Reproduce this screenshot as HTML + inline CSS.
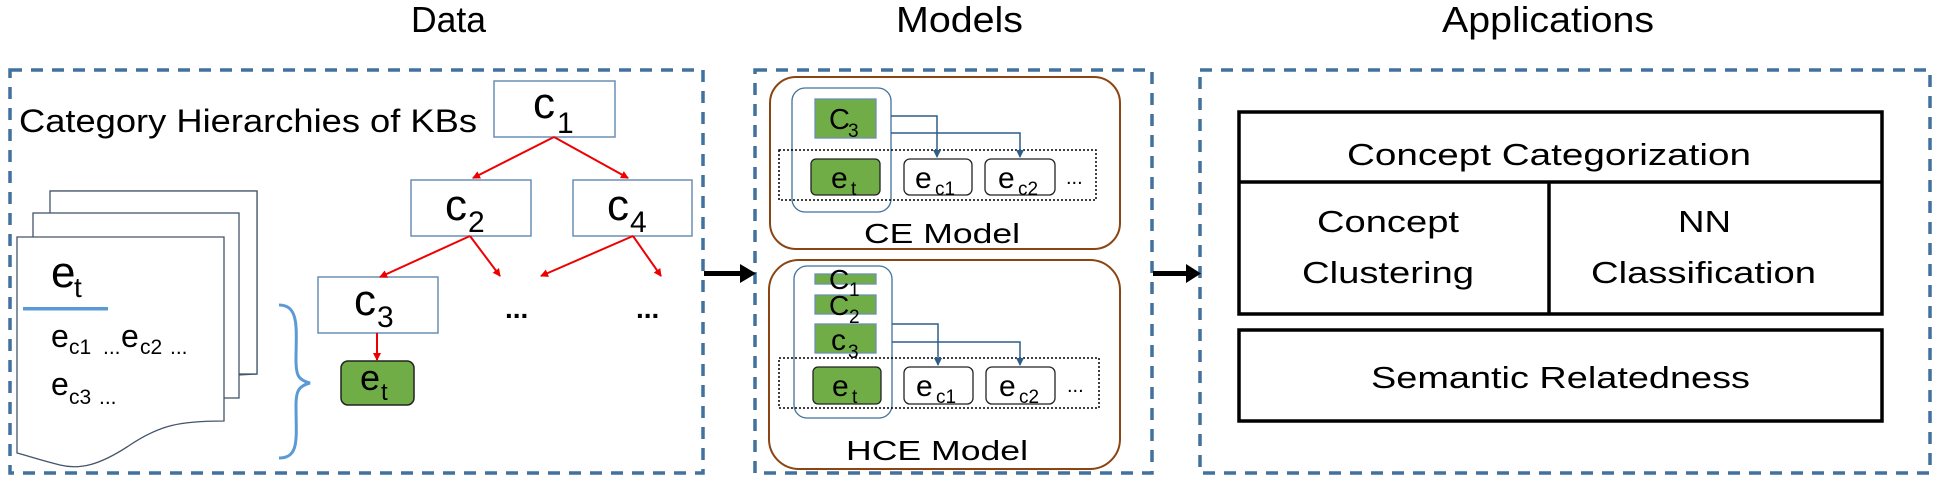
<!DOCTYPE html>
<html><head><meta charset="utf-8"><style>html,body{margin:0;padding:0;background:#fff}svg{display:block}text{font-family:"Liberation Sans",sans-serif;fill:#000}</style></head><body>
<svg width="1942" height="482" viewBox="0 0 1942 482" xmlns="http://www.w3.org/2000/svg">
<defs>
<marker id="ra" markerWidth="8" markerHeight="8" refX="7" refY="4" orient="auto" markerUnits="userSpaceOnUse"><path d="M0,0 L8,4 L0,8 z" fill="#e00"/></marker>
<marker id="ba" markerWidth="8" markerHeight="8" refX="7" refY="4" orient="auto" markerUnits="userSpaceOnUse"><path d="M0,0 L8,4 L0,8 z" fill="#2e5d8a"/></marker>
</defs>
<!-- titles -->
<text x="411" y="32" font-size="36" textLength="75" lengthAdjust="spacingAndGlyphs">Data</text>
<text x="896" y="32" font-size="36" textLength="127" lengthAdjust="spacingAndGlyphs">Models</text>
<text x="1442" y="32" font-size="36" textLength="212" lengthAdjust="spacingAndGlyphs">Applications</text>
<!-- dashed boxes -->
<g fill="none" stroke="#41719c" stroke-width="3.5" stroke-dasharray="12,9">
<rect x="10" y="70" width="693" height="403"/>
<rect x="755" y="70" width="397" height="403"/>
<rect x="1200" y="70" width="730" height="403"/>
</g>
<!-- big arrows -->
<g fill="#000"><rect x="704" y="271" width="38" height="5"/><path d="M740,264 L756,273.5 L740,283 z"/>
<rect x="1153" y="271" width="35" height="5"/><path d="M1186,264 L1201,273.5 L1186,283 z"/></g>
<!-- Data section -->
<text x="19" y="132" font-size="32" textLength="458" lengthAdjust="spacingAndGlyphs">Category Hierarchies of KBs</text>
<g fill="#fff" stroke="#6b8fb5" stroke-width="1.5">
<rect x="494" y="81" width="121" height="56"/>
<rect x="411" y="180" width="120" height="56"/>
<rect x="573" y="180" width="119" height="56"/>
<rect x="318" y="277" width="120" height="56"/>
</g>
<rect x="341" y="361" width="73" height="44" rx="7" fill="#70ad47" stroke="#222" stroke-width="1.5"/>
<g font-size="44"><text x="533" y="118">c</text><text x="445" y="220">c</text><text x="607" y="220">c</text><text x="354" y="315">c</text></g>
<g font-size="30"><text x="557" y="133">1</text><text x="468" y="232">2</text><text x="630" y="232">4</text><text x="377" y="327">3</text></g>
<text x="360" y="390" font-size="36">e</text><text x="381" y="400" font-size="24">t</text>
<g stroke="#e00" stroke-width="2" fill="none" marker-end="url(#ra)">
<line x1="554" y1="137" x2="473" y2="178"/><line x1="554" y1="137" x2="628" y2="178"/>
<line x1="470" y1="236" x2="380" y2="277"/><line x1="470" y1="236" x2="500" y2="276"/>
<line x1="633" y1="236" x2="541" y2="276"/><line x1="633" y1="236" x2="661" y2="276"/>
<line x1="377" y1="333" x2="377" y2="360"/>
</g>
<text x="505" y="318" font-size="28" font-weight="bold">...</text>
<text x="636" y="318" font-size="28" font-weight="bold">...</text>
<!-- documents -->
<g fill="#fff" stroke="#44546a" stroke-width="1.3">
<path d="M50,191 H257 V374 L239,375 V191"/>
<rect x="50" y="191" width="207" height="183"/>
<rect x="33" y="213" width="206" height="185"/>
<path d="M17,237 H224 V421 C180,421 160,425 130,445 C100,465 80,470 60,465 C40,460 25,455 17,453 Z"/>
</g>
<text x="51" y="287" font-size="44">e</text><text x="74" y="297" font-size="28">t</text>
<rect x="23" y="307" width="85" height="3.5" fill="#5b9bd5"/>
<g font-size="32"><text x="51" y="347">e</text><text x="121" y="347">e</text><text x="51" y="395">e</text></g>
<g font-size="21"><text x="69" y="354">c1</text><text x="103" y="354">...</text><text x="140" y="354">c2</text><text x="170" y="354">...</text><text x="69" y="404">c3</text><text x="99" y="404">...</text></g>
<path d="M279,305 C300,305 296,330 296,360 C296,375 298,380 310,383 C298,386 296,392 296,405 C296,438 300,458 279,458" fill="none" stroke="#5b9bd5" stroke-width="3"/>
<!-- Models: CE -->
<rect x="770" y="77" width="350" height="172" rx="26" fill="none" stroke="#8b4513" stroke-width="2"/>
<rect x="792" y="88" width="99" height="124" rx="13" fill="none" stroke="#41719c" stroke-width="1.3"/>
<rect x="815" y="99" width="61" height="39" fill="#70ad47" stroke="#6b8fb5" stroke-width="1.3"/>
<rect x="779" y="150" width="317" height="50" fill="none" stroke="#000" stroke-width="1.5" stroke-dasharray="2,2"/>
<rect x="811" y="159" width="69" height="36" rx="5" fill="#70ad47" stroke="#222" stroke-width="1.3"/>
<rect x="904" y="159" width="68" height="36" rx="6" fill="#fff" stroke="#222" stroke-width="1.3"/>
<rect x="985" y="159" width="70" height="36" rx="6" fill="#fff" stroke="#222" stroke-width="1.3"/>
<g stroke="#2e5d8a" stroke-width="1.5" fill="none" marker-end="url(#ba)">
<polyline points="891,116 937,116 937,157"/><polyline points="891,133 1020,133 1020,157"/>
</g>
<text x="829" y="129" font-size="29">C</text><text x="848" y="137" font-size="19">3</text>
<g font-size="30"><text x="831" y="188">e</text><text x="915" y="188">e</text><text x="998" y="188">e</text></g>
<g font-size="19"><text x="851" y="195">t</text><text x="935" y="195">c1</text><text x="1018" y="195">c2</text></g>
<text x="1066" y="184" font-size="20">...</text>
<text x="864" y="243" font-size="28" textLength="156" lengthAdjust="spacingAndGlyphs">CE Model</text>
<!-- Models: HCE -->
<rect x="769" y="260" width="351" height="209" rx="30" fill="none" stroke="#8b4513" stroke-width="2"/>
<rect x="794" y="266" width="98" height="152" rx="13" fill="none" stroke="#41719c" stroke-width="1.3"/>
<g fill="#70ad47" stroke="#6b8fb5" stroke-width="1.3">
<rect x="815" y="274" width="61" height="10"/><rect x="815" y="295" width="61" height="19"/><rect x="815" y="324" width="61" height="29"/>
</g>
<rect x="779" y="358" width="320" height="50" fill="none" stroke="#000" stroke-width="1.5" stroke-dasharray="2,2"/>
<rect x="813" y="367" width="68" height="37" rx="5" fill="#70ad47" stroke="#222" stroke-width="1.3"/>
<rect x="904" y="367" width="69" height="37" rx="6" fill="#fff" stroke="#222" stroke-width="1.3"/>
<rect x="986" y="367" width="69" height="37" rx="6" fill="#fff" stroke="#222" stroke-width="1.3"/>
<g stroke="#2e5d8a" stroke-width="1.5" fill="none" marker-end="url(#ba)">
<polyline points="892,324 938,324 938,365"/><polyline points="892,342 1020,342 1020,365"/>
</g>
<text x="829" y="289" font-size="28">C</text><text x="849" y="296" font-size="19">1</text>
<text x="829" y="315" font-size="28">C</text><text x="849" y="323" font-size="19">2</text>
<text x="831" y="350" font-size="30">c</text><text x="848" y="358" font-size="19">3</text>
<g font-size="30"><text x="832" y="396">e</text><text x="916" y="396">e</text><text x="999" y="396">e</text></g>
<g font-size="19"><text x="852" y="403">t</text><text x="936" y="403">c1</text><text x="1019" y="403">c2</text></g>
<text x="1067" y="392" font-size="20">...</text>
<text x="846" y="460" font-size="28" textLength="182" lengthAdjust="spacingAndGlyphs">HCE Model</text>
<!-- Applications -->
<g fill="none" stroke="#000" stroke-width="3.5">
<rect x="1239" y="112" width="643" height="202"/>
<line x1="1239" y1="182" x2="1882" y2="182"/>
<line x1="1549" y1="182" x2="1549" y2="314"/>
<rect x="1239" y="330" width="643" height="91"/>
</g>
<g font-size="31">
<text x="1347" y="165" textLength="404" lengthAdjust="spacingAndGlyphs">Concept Categorization</text>
<text x="1317" y="232" textLength="142" lengthAdjust="spacingAndGlyphs">Concept</text>
<text x="1302" y="283" textLength="172" lengthAdjust="spacingAndGlyphs">Clustering</text>
<text x="1678" y="232" textLength="53" lengthAdjust="spacingAndGlyphs">NN</text>
<text x="1591" y="283" textLength="225" lengthAdjust="spacingAndGlyphs">Classification</text>
<text x="1371" y="388" textLength="379" lengthAdjust="spacingAndGlyphs">Semantic Relatedness</text>
</g>
</svg>
</body></html>
